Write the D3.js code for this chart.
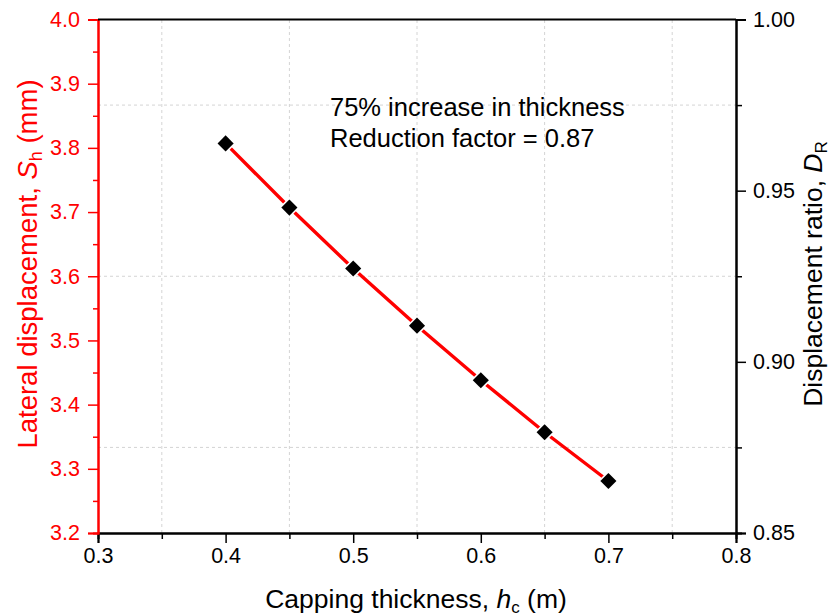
<!DOCTYPE html>
<html>
<head>
    <title>Capping thickness vs lateral displacement</title>
    <script src="https://d3js.org/d3.v7.min.js"></script>
    <style>
        body { margin: 0; background: #fff; }
        svg { font-family: Arial, "Liberation Sans", sans-serif; }
        .grid line { stroke: #d4d4d4; stroke-width: 1; stroke-dasharray: 3,3; }
    </style>
</head>
<body>
    <div id="chart"></div>
    <script>
        // values
        const thickness = [0.4, 0.45, 0.5, 0.55, 0.6, 0.65, 0.7];
        const displacement = [3.807, 3.707, 3.612, 3.523, 3.438, 3.357, 3.281];
        const xTicks = [0.3, 0.4, 0.5, 0.6, 0.7, 0.8];
        const yTicks = [3.2, 3.3, 3.4, 3.5, 3.6, 3.7, 3.8, 3.9, 4.0];
        const rTicks = [0.85, 0.90, 0.95, 1.00];
        const notes = ["75% increase in thickness", "Reduction factor = 0.87"];

        const width = 833, height = 616;
        const m = { left: 98, right: 97, top: 19.5, bottom: 83 };

        const svg = d3.select("#chart").append("svg")
            .attr("width", width)
            .attr("height", height);

        const x = d3.scaleLinear().domain([0.3, 0.8]).range([m.left, width - m.right]);
        const y = d3.scaleLinear().domain([3.2, 4.0]).range([height - m.bottom, m.top]);
        const yr = d3.scaleLinear().domain([0.85, 1.00]).range([height - m.bottom, m.top]);

        const x0 = m.left, x1 = width - m.right, y0 = height - m.bottom, y1 = m.top;

        // dashed grid at the minor positions
        const grid = svg.append("g").attr("class", "grid");
        grid.selectAll(".gv")
            .data([0.35, 0.45, 0.55, 0.65, 0.75])
            .enter().append("line")
            .attr("x1", d => x(d)).attr("x2", d => x(d))
            .attr("y1", y0).attr("y2", y1);
        grid.selectAll(".gh")
            .data([0.875, 0.925, 0.975])
            .enter().append("line")
            .attr("x1", x0).attr("x2", x1)
            .attr("y1", d => yr(d)).attr("y2", d => yr(d));

        // bottom axis
        svg.append("g")
            .attr("transform", `translate(0,${y0})`)
            .call(d3.axisBottom(x).tickValues(d3.range(0.35, 0.8, 0.1)).tickSize(6).tickFormat(""));
        svg.append("g")
            .attr("transform", `translate(0,${y0})`)
            .call(d3.axisBottom(x).tickValues(xTicks).tickSize(10).tickPadding(5).tickFormat(d3.format(".1f")));

        // left axis (red)
        svg.append("g")
            .attr("class", "left-minor")
            .attr("transform", `translate(${x0},0)`)
            .call(d3.axisLeft(y).tickValues(d3.range(3.25, 4.0, 0.1)).tickSize(5).tickFormat(""));
        svg.append("g")
            .attr("class", "left")
            .attr("transform", `translate(${x0},0)`)
            .call(d3.axisLeft(y).tickValues(yTicks).tickSize(10).tickPadding(8).tickFormat(d3.format(".1f")));

        // right axis
        svg.append("g")
            .attr("transform", `translate(${x1},0)`)
            .call(d3.axisRight(yr).tickValues([0.875, 0.925, 0.975]).tickSize(6).tickFormat(""));
        svg.append("g")
            .attr("transform", `translate(${x1},0)`)
            .call(d3.axisRight(yr).tickValues(rTicks).tickSize(10).tickPadding(7).tickFormat(d3.format(".2f")));

        svg.selectAll(".domain").attr("stroke-width", 2);
        svg.selectAll(".tick line").attr("stroke-width", 1.5);
        svg.selectAll(".tick text").attr("font-size", 21.5).attr("font-family", "Arial, 'Liberation Sans', sans-serif").attr("fill", "#000");
        svg.selectAll(".left .domain, .left .tick line, .left-minor .domain, .left-minor .tick line").attr("stroke", "#ff0000");
        svg.selectAll(".left .tick text").attr("fill", "#ff0000");

        // top border
        svg.append("line")
            .attr("x1", x0).attr("x2", x1).attr("y1", y1).attr("y2", y1)
            .attr("stroke", "#000").attr("stroke-width", 2);

        // data line
        const line = d3.line().x((d, i) => x(thickness[i])).y(d => y(d));
        svg.append("path")
            .datum(displacement)
            .attr("d", line)
            .attr("fill", "none")
            .attr("stroke", "#ff0000")
            .attr("stroke-width", 3.4);

        const pts = svg.append("g").selectAll("g")
            .data(displacement)
            .enter().append("g")
            .attr("transform", (d, i) => `translate(${x(thickness[i])},${y(d)}) rotate(45)`);
        pts.append("path")
            .attr("d", d3.symbol(d3.symbolSquare, 210))
            .attr("fill", "#fff");
        pts.append("path")
            .attr("d", d3.symbol(d3.symbolSquare, 130))
            .attr("fill", "#000");

        // annotation
        svg.append("g").selectAll("text")
            .data(notes)
            .enter().append("text")
            .attr("x", 330)
            .attr("y", (d, i) => 116 + i * 31)
            .attr("font-size", 25.5)
            .attr("fill", "#000")
            .text(d => d);

        // axis titles
        const bt = svg.append("text")
            .attr("x", 416)
            .attr("y", 608)
            .attr("text-anchor", "middle")
            .attr("font-size", 26.5)
            .attr("fill", "#000");
        bt.append("tspan").text("Capping thickness, ");
        bt.append("tspan").attr("font-style", "italic").text("h");
        bt.append("tspan").attr("font-size", 17).attr("dy", 5).text("c");
        bt.append("tspan").attr("dy", -5).text(" (m)");

        const lt = svg.append("text")
            .attr("transform", `translate(37,264) rotate(-90)`)
            .attr("text-anchor", "middle")
            .attr("font-size", 27.5)
            .attr("fill", "#ff0000");
        lt.append("tspan").text("Lateral displacement, ");
        lt.append("tspan").attr("font-style", "italic").text("S");
        lt.append("tspan").attr("font-size", 18).attr("dy", 5).text("h");
        lt.append("tspan").attr("dy", -5).text(" (mm)");

        const rt = svg.append("text")
            .attr("transform", `translate(822,274) rotate(-90)`)
            .attr("text-anchor", "middle")
            .attr("font-size", 26.5)
            .attr("fill", "#000");
        rt.append("tspan").text("Displacement ratio, ");
        rt.append("tspan").attr("font-style", "italic").text("D");
        rt.append("tspan").attr("font-size", 17).attr("dy", 5).text("R");
    </script>
</body>
</html>
